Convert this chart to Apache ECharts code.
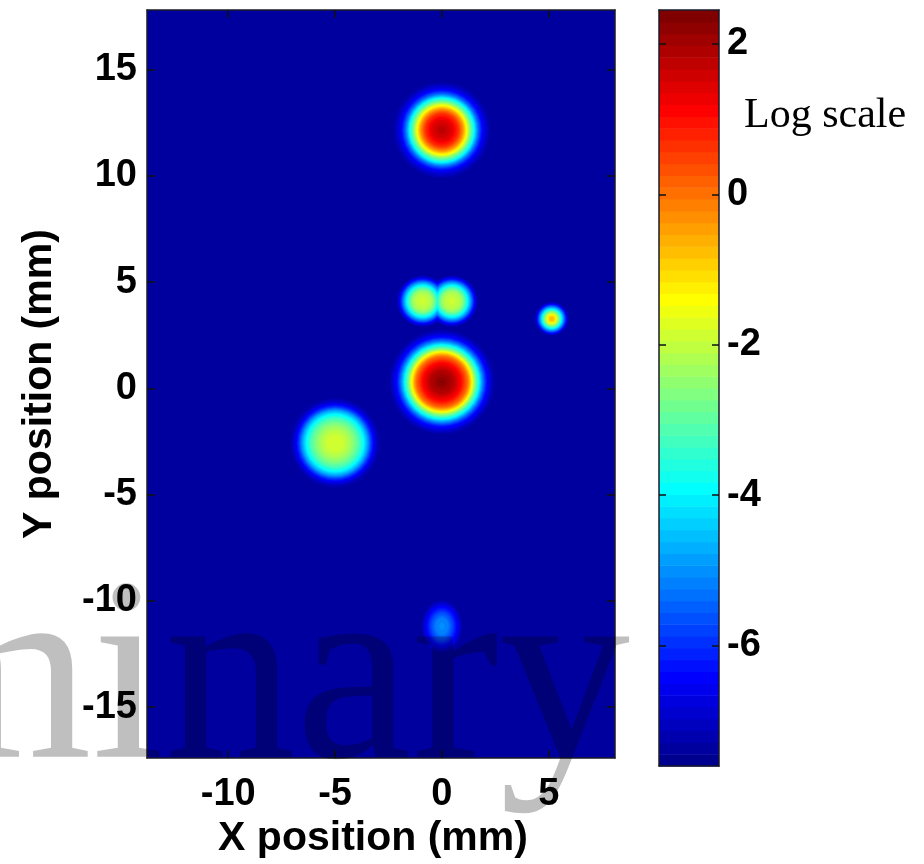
<!DOCTYPE html>
<html><head><meta charset="utf-8">
<script src="https://cdn.jsdelivr.net/npm/echarts@6/dist/echarts.min.js"></script>
<style>html,body{margin:0;padding:0;background:#fff}#c{width:924px;height:864px}</style>
</head><body><div id="c"></div>
<script>
// ---------------- data ----------------
const xTicks = [-10, -5, 0, 5];
const yTicks = [-15, -10, -5, 0, 5, 10, 15];
const cbTicks = [-6, -4, -2, 0, 2];
const xRange = [-13.8, 8.1];
const yRange = [-17.4, 17.8];
const cRange = [-7.6, 2.45];          // colour bar (log scale)
const backgroundValue = -7.3;

// spot centres (mm)
const spotX = [0, 0, -0.9, 0.47, 5.14, -5.0, 0];
const spotY = [12.15, 0.3, 4.1, 4.1, 3.27, -2.57, -11.2];
const spotAspect = [1, 1, 1, 1, 1, 1, 1.3];   // vertical / horizontal extent
// radial profiles: radius (mm) -> log value
const spotRadii = [
  [0, 0.47, 0.79, 0.98, 1.17, 1.31, 1.50, 1.68, 1.87, 2.06, 2.25],
  [0, 0.56, 0.93, 1.21, 1.40, 1.54, 1.73, 1.92, 2.10, 2.29, 2.45],
  [0, 0.28, 0.47, 0.61, 0.75, 0.89, 1.03, 1.21],
  [0, 0.28, 0.47, 0.61, 0.75, 0.89, 1.03, 1.21],
  [0, 0.14, 0.23, 0.33, 0.42, 0.51, 0.61, 0.70, 0.79],
  [0, 0.37, 0.65, 0.93, 1.17, 1.36, 1.54, 1.68, 1.82, 1.96, 2.1],
  [0, 0.3, 0.52, 0.75, 0.95]
];
const spotValues = [
  [1.85, 1.4, 0.6, -0.3, -1.5, -2.6, -3.8, -5.2, -6.3, -6.9, -7.3],
  [2.35, 1.8, 1.0, 0.0, -1.3, -2.5, -3.8, -5.2, -6.3, -6.9, -7.3],
  [-1.9, -2.0, -2.4, -3.1, -4.0, -5.0, -6.2, -7.3],
  [-1.9, -2.0, -2.4, -3.1, -4.0, -5.0, -6.2, -7.3],
  [-0.6, -1.0, -1.7, -2.6, -3.5, -4.5, -5.6, -6.6, -7.3],
  [-1.8, -1.9, -2.2, -2.7, -3.3, -4.0, -4.9, -5.8, -6.5, -7.0, -7.3],
  [-5.0, -5.2, -5.8, -6.6, -7.3]
];

// ---------------- colour map (MATLAB jet, 64 levels) ----------------
const NLEV = 64;
function jet(k) {
  const c = x => Math.max(0, Math.min(1, x));
  const r = c(Math.min((k - 24) / 16, (72 - k) / 16));
  const g = c(Math.min((k - 8) / 16, (56 - k) / 16));
  const b = c(Math.min((k + 8) / 16, (40 - k) / 16));
  return 'rgb(' + Math.round(r * 255) + ',' + Math.round(g * 255) + ',' + Math.round(b * 255) + ')';
}
const dLev = (cRange[1] - cRange[0]) / NLEV;
function level(v) {
  return Math.max(1, Math.min(NLEV, Math.floor((v - cRange[0]) / dLev) + 1));
}
function radiusAt(i, v) {
  const R = spotRadii[i], V = spotValues[i];
  if (v >= V[0]) return 0;
  for (let j = 0; j < V.length - 1; j++) {
    if (v <= V[j] && v > V[j + 1]) {
      return R[j] + (V[j] - v) / (V[j] - V[j + 1]) * (R[j + 1] - R[j]);
    }
  }
  return R[R.length - 1];
}
const kBg = level(backgroundValue);

const spotData = spotX.map((x, i) => [x, spotY[i], i]);

function renderSpot(params, api) {
  const i = api.value(2);
  const c = api.coord([api.value(0), api.value(1)]);
  const s = api.size([1, 1]);
  const kTop = level(spotValues[i][0]);
  const children = [];
  for (let k = kBg + 1; k <= kTop; k++) {
    const v = cRange[0] + (k - 1) * dLev;
    const r = radiusAt(i, v);
    if (r <= 0) continue;
    children.push({
      type: 'circle',
      x: c[0], y: c[1],
      scaleY: spotAspect[i] * s[1] / s[0],
      shape: { cx: 0, cy: 0, r: r * s[0] },
      style: { fill: jet(k) },
      z2: k
    });
  }
  return { type: 'group', children: children };
}

const cbData = [];
for (let k = 1; k <= NLEV; k++) cbData.push([0.5, cRange[0] + (k - 0.5) * dLev, k]);
function renderCb(params, api) {
  const k = api.value(2);
  const lo = cRange[0] + (k - 1) * dLev, hi = cRange[0] + k * dLev;
  const p0 = api.coord([0, lo]), p1 = api.coord([1, hi]);
  return { type: 'rect', shape: { x: p0[0], y: p1[1], width: p1[0] - p0[0], height: p0[1] - p1[1] + 0.6 },
           style: { fill: jet(k) } };
}

const tickFont = { fontFamily: '"Liberation Sans", Arial, sans-serif', fontWeight: 'bold', fontSize: 38, color: '#000' };
const titleFont = { fontFamily: '"Liberation Sans", Arial, sans-serif', fontWeight: 'bold', fontSize: 41, color: '#000' };
const lineStyle = { color: '#1a1a2a', width: 1.5 };
const tickStyle = { color: '#111', width: 1.5 };

function frameAxis(extra) {
  return Object.assign({
    type: 'value', z: 10,
    axisLine: { show: true, onZero: false, lineStyle: lineStyle },
    axisTick: { show: false },
    axisLabel: { show: false },
    splitLine: { show: false }
  }, extra);
}

const option = {
  animation: false,
  backgroundColor: '#fff',
  grid: [
    { left: 147, top: 10, width: 468, height: 752, show: true, backgroundColor: jet(kBg), borderWidth: 0 },
    { left: 659, top: 10, width: 60, height: 756, show: false }
  ],
  xAxis: [
    frameAxis({ gridIndex: 0, min: xRange[0], max: xRange[1], position: 'bottom',
      axisTick: { show: true, inside: true, length: 8, customValues: xTicks, lineStyle: tickStyle },
      axisLabel: Object.assign({ show: true, customValues: xTicks, margin: 17 }, tickFont),
      name: 'X position (mm)', nameLocation: 'middle', nameGap: 52,
      nameTextStyle: Object.assign({ padding: [0, 16, 0, 0] }, titleFont) }),
    frameAxis({ gridIndex: 0, min: xRange[0], max: xRange[1], position: 'top',
      axisTick: { show: true, inside: true, length: 8, customValues: xTicks, lineStyle: tickStyle } }),
    frameAxis({ gridIndex: 1, min: 0, max: 1, position: 'bottom' }),
    frameAxis({ gridIndex: 1, min: 0, max: 1, position: 'top' })
  ],
  yAxis: [
    frameAxis({ gridIndex: 0, min: yRange[0], max: yRange[1], position: 'left',
      axisTick: { show: true, inside: true, length: 8, customValues: yTicks, lineStyle: tickStyle },
      axisLabel: Object.assign({ show: true, customValues: yTicks, margin: 10 }, tickFont),
      name: 'Y position (mm)', nameLocation: 'middle', nameGap: 87,
      nameTextStyle: titleFont }),
    frameAxis({ gridIndex: 0, min: yRange[0], max: yRange[1], position: 'right',
      axisTick: { show: true, inside: true, length: 8, customValues: yTicks, lineStyle: tickStyle } }),
    frameAxis({ gridIndex: 1, min: cRange[0], max: cRange[1], position: 'left',
      axisTick: { show: true, inside: true, length: 7, customValues: cbTicks, lineStyle: tickStyle } }),
    frameAxis({ gridIndex: 1, min: cRange[0], max: cRange[1], position: 'right',
      axisTick: { show: true, inside: true, length: 7, customValues: cbTicks, lineStyle: tickStyle },
      axisLabel: Object.assign({ show: true, customValues: cbTicks, margin: 8 }, tickFont) })
  ],
  series: [
    { type: 'custom', xAxisIndex: 0, yAxisIndex: 0, data: spotData, renderItem: renderSpot, clip: true, silent: true },
    { type: 'custom', xAxisIndex: 2, yAxisIndex: 2, data: cbData, renderItem: renderCb, silent: true }
  ],
  graphic: [
    { type: 'text', x: 744, y: 116, z: 50,
      style: { text: 'Log scale', font: '42px "Liberation Serif", "Times New Roman", serif', fill: '#000',
               textAlign: 'left', textVerticalAlign: 'middle', align: 'left', verticalAlign: 'middle' } },
    { type: 'text', x: -112, y: 688, z: 100, silent: true,
      style: { text: 'minary', font: '262px "Liberation Serif", "Times New Roman", serif', fill: 'rgba(0,0,0,0.25)',
               textAlign: 'left', textVerticalAlign: 'middle', align: 'left', verticalAlign: 'middle' } }
  ]
};

const chart = echarts.init(document.getElementById('c'), null, { renderer: 'canvas' });
chart.setOption(option);
</script>
</body></html>
